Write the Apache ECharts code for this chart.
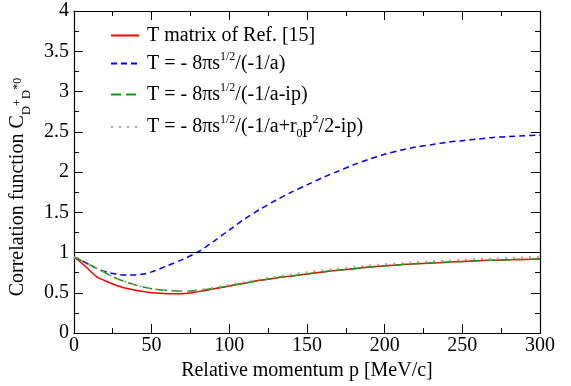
<!DOCTYPE html>
<html>
<head>
<meta charset="utf-8">
<script src="https://cdn.jsdelivr.net/npm/echarts@6/dist/echarts.min.js"></script>
<style>html,body{margin:0;padding:0;background:#fff}#c{width:571px;height:386px}</style>
</head>
<body>
<div id="c"></div>
<script>
// ---- data ----
const momentum = [0,5,10,15,20,25,30,35,40,45,50,60,70,80,90,100,110,120,130,140,150,160,170,180,190,200,210,220,230,240,250,260,270,280,290,300];
const tMatrixRef = [0.945,0.87,0.78,0.695,0.65,0.61,0.575,0.55,0.53,0.515,0.50,0.49,0.49,0.515,0.55,0.585,0.62,0.655,0.685,0.71,0.735,0.76,0.78,0.80,0.82,0.835,0.85,0.86,0.87,0.88,0.89,0.90,0.905,0.91,0.915,0.92];
const tScatLen = [0.945,0.90,0.85,0.80,0.765,0.74,0.725,0.72,0.72,0.735,0.76,0.835,0.915,1.01,1.14,1.28,1.42,1.54,1.65,1.75,1.84,1.93,2.01,2.09,2.16,2.22,2.27,2.31,2.34,2.37,2.39,2.41,2.43,2.44,2.45,2.46];
const tScatLenIp = [0.945,0.90,0.85,0.80,0.75,0.70,0.66,0.625,0.595,0.57,0.55,0.53,0.52,0.53,0.555,0.585,0.62,0.655,0.685,0.71,0.735,0.76,0.78,0.80,0.82,0.835,0.85,0.86,0.87,0.88,0.89,0.90,0.905,0.91,0.915,0.92];
const tEffRange = [0.945,0.90,0.85,0.80,0.75,0.70,0.66,0.625,0.595,0.57,0.55,0.53,0.52,0.535,0.565,0.60,0.635,0.67,0.70,0.73,0.755,0.78,0.80,0.82,0.84,0.855,0.865,0.88,0.89,0.90,0.91,0.92,0.925,0.935,0.94,0.945];
const seriesNames = ['T matrix of Ref. [15]','T = - 8πs1/2/(-1/a)','T = - 8πs1/2/(-1/a-ip)','T = - 8πs1/2/(-1/a+r0p2/2-ip)'];
const legendRich = [
  '{m|T matrix of Ref. [15]}',
  '{m|T = - 8πs}{sup|1/2}{m|/(-1/a)}',
  '{m|T = - 8πs}{sup|1/2}{m|/(-1/a-ip)}',
  '{m|T = - 8πs}{sup|1/2}{m|/(-1/a+r}{sub|0}{m|p}{sup|2}{m|/2-ip)}'
];
const yAxisTitle = '{ym|Correlation function C}{ysub|D}{ysup|+}{ysub|D}{ysup|*0}';
const xAxisTitle = 'Relative momentum p [MeV/c]';
const xTicks = {min:0, max:300, step:50};
const yTicks = {min:0, max:4, step:0.5};

const FONT = 'Liberation Serif';
const richStyles = {
  m:{fontSize:20, fontFamily:FONT, color:'#000', lineHeight:26},
  sup:{fontSize:12, fontFamily:FONT, color:'#000', lineHeight:12, verticalAlign:'top'},
  sub:{fontSize:12, fontFamily:FONT, color:'#000', lineHeight:12, verticalAlign:'bottom'},
  ym:{fontSize:20, fontFamily:FONT, color:'#000', lineHeight:30},
  ysub:{fontSize:13, fontFamily:FONT, color:'#000', lineHeight:12, verticalAlign:'bottom'},
  ysup:{fontSize:12, fontFamily:FONT, color:'#000', lineHeight:12}
};
const pairs = arr => momentum.map((p,i)=>[p,arr[i]]);
const legendCenters = [38.5, 63.5, 94.5, 127];

function mkX(pos, showLabels){
  return {
    type:'value', position:pos, min:xTicks.min, max:xTicks.max, interval:xTicks.step,
    axisLine:{show:true, onZero:false, lineStyle:{color:'#000', width:1.2}},
    axisTick:{show:true, inside:true, length:9, lineStyle:{color:'#000', width:1}},
    minorTick:{show:true, splitNumber:2, length:5, lineStyle:{color:'#000', width:1}},
    splitLine:{show:false},
    axisLabel:{show:showLabels, color:'#000', fontSize:20, fontFamily:FONT, margin:3},
    name: showLabels ? xAxisTitle : '',
    nameLocation:'middle', nameGap:21,
    nameTextStyle:{color:'#000', fontSize:20, fontFamily:FONT}
  };
}
function mkY(pos, showLabels){
  return {
    type:'value', position:pos, min:yTicks.min, max:yTicks.max, interval:yTicks.step,
    axisLine:{show:true, onZero:false, lineStyle:{color:'#000', width:1.2}},
    axisTick:{show:true, inside:true, length:9, lineStyle:{color:'#000', width:1}},
    minorTick:{show:true, splitNumber:2, length:5, lineStyle:{color:'#000', width:1}},
    splitLine:{show:false},
    axisLabel:{show:showLabels, color:'#000', fontSize:20, fontFamily:FONT, margin:5},
    name: showLabels ? yAxisTitle : '',
    nameLocation:'middle', nameGap:31, nameRotate:90,
    nameTextStyle:{color:'#000', fontSize:20, fontFamily:FONT, rich:richStyles, padding:[0,30,0,0]}
  };
}

const styles = [
  {color:'#ff0000', width:1.5, type:'solid'},
  {color:'#0000ff', width:1.5, type:[6,4]},
  {color:'#119911', width:1.5, type:[10,5]},
  {color:'#c89696', width:2, type:[2,6]}
];
const dataSets = [tMatrixRef, tScatLen, tScatLenIp, tEffRange];

const series = dataSets.map((d,i)=>({
  name:seriesNames[i], type:'line', data:pairs(d), symbol:'none', smooth:0.3,
  lineStyle:{color:styles[i].color, width:styles[i].width, type:styles[i].type, cap:'butt'},
  itemStyle:{color:styles[i].color},
  z: 2+i,
  animation:false
}));
series[0].markLine = {
  silent:true, symbol:'none', label:{show:false}, animation:false,
  lineStyle:{color:'#000', width:1, type:'solid'},
  data:[{yAxis:1}]
};

const legends = seriesNames.map((n,i)=>({
  data:[n], left:110, top: legendCenters[i]-13, padding:0, orient:'vertical',
  itemWidth:28, itemHeight:10, selectedMode:false,
  itemStyle:{opacity:0, color:'rgba(0,0,0,0)', borderWidth:0},
  formatter:()=>legendRich[i],
  textStyle:{fontSize:20, fontFamily:FONT, color:'#000', rich:richStyles, padding:[0,0,0,3]}
}));

const chart = echarts.init(document.getElementById('c'), null, {renderer:'canvas'});
chart.setOption({
  animation:false,
  backgroundColor:'#fff',
  grid:{left:69, right:31, top:11, bottom:45, containLabel:false},
  xAxis:[mkX('bottom', true), mkX('top', false)],
  yAxis:[mkY('left', true), mkY('right', false)],
  legend:legends,
  series:series
});
</script>
</body>
</html>
